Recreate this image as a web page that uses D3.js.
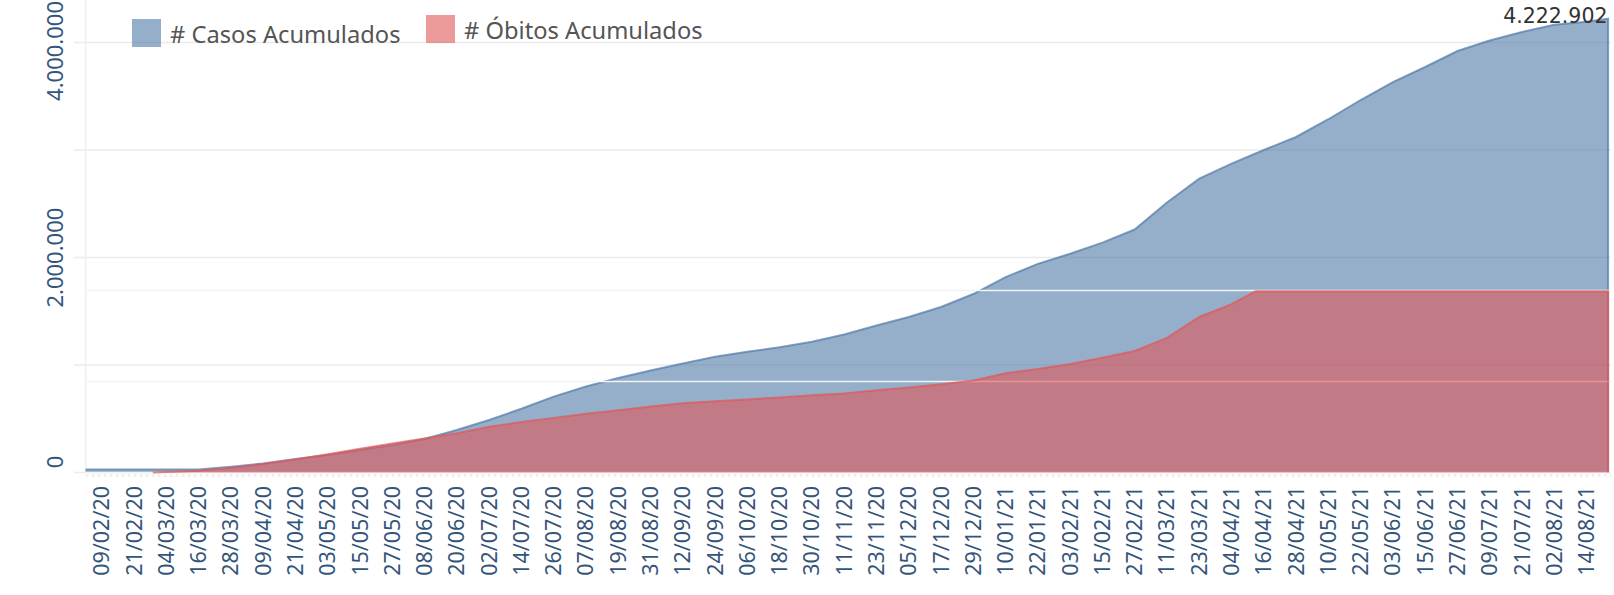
<!DOCTYPE html>
<html>
<head>
<meta charset="utf-8">
<script src="https://cdn.jsdelivr.net/npm/d3@7"></script>
<style>
  body { margin: 0; background: #fff; }
  svg { display: block; }
</style>
</head>
<body>
<div id="grafico"></div>
<script>
// etiquetas del eje x (cada 12 dias)
var fechasTicks = ["09/02/20", "21/02/20", "04/03/20", "16/03/20", "28/03/20", "09/04/20", "21/04/20", "03/05/20",
    "15/05/20", "27/05/20", "08/06/20", "20/06/20", "02/07/20", "14/07/20", "26/07/20", "07/08/20", "19/08/20",
    "31/08/20", "12/09/20", "24/09/20", "06/10/20", "18/10/20", "30/10/20", "11/11/20", "23/11/20", "05/12/20",
    "17/12/20", "29/12/20", "10/01/21", "22/01/21", "03/02/21", "15/02/21", "27/02/21", "11/03/21", "23/03/21",
    "04/04/21", "16/04/21", "28/04/21", "10/05/21", "22/05/21", "03/06/21", "15/06/21", "27/06/21", "09/07/21",
    "21/07/21", "02/08/21", "14/08/21"]

// casos acumulados (eje izquierdo)
var fechasCasos = ["03/02/20"].concat(fechasTicks).concat(["22/08/21"])
var casosAcumulados = [30000,
    30000, 30000, 30000, 30000, 55000, 85000, 126000, 164000,
    210000, 257000, 313000, 396000, 489000, 594000, 707000, 801000, 880000,
    949000, 1014000, 1077000, 1124000, 1166000, 1217000, 1285000, 1369000, 1447000,
    1540000, 1661000, 1818000, 1942000, 2036000, 2139000, 2261000, 2512000, 2734000,
    2874000, 3001000, 3122000, 3287000, 3466000, 3633000, 3773000, 3922000,
    4020000, 4099000, 4165000, 4195000,
    4222902]

// obitos acumulados (eje secundario, oculto)
var fechasObitos = ["28/02/20", "04/03/20", "16/03/20", "28/03/20", "09/04/20", "21/04/20", "03/05/20",
    "15/05/20", "27/05/20", "08/06/20", "20/06/20", "02/07/20", "14/07/20", "26/07/20", "07/08/20", "19/08/20",
    "31/08/20", "12/09/20", "24/09/20", "06/10/20", "18/10/20", "30/10/20", "11/11/20", "23/11/20", "05/12/20",
    "17/12/20", "29/12/20", "10/01/21", "22/01/21", "03/02/21", "15/02/21", "27/02/21", "11/03/21", "23/03/21",
    "04/04/21", "13/04/21", "16/04/21", "28/04/21", "10/05/21", "22/05/21", "03/06/21", "15/06/21", "27/06/21",
    "09/07/21", "21/07/21", "02/08/21", "14/08/21", "22/08/21"]
var obitosAcumulados = [0, 300, 1000, 2500, 4700, 7200, 10100,
    13100, 16000, 18700, 21600, 25200, 27800, 30000, 32300, 34300,
    36300, 38100, 39200, 40200, 41200, 42500, 43500, 45300, 46800,
    48500, 50600, 54600, 56900, 59700, 63100, 66800, 74000, 85500,
    92600, 99700, 99700, 99700, 99700, 99700, 99700, 99700, 99700,
    99700, 99700, 99700, 99700, 99700]

var ticksCasos = [0, 1000000, 2000000, 3000000, 4000000]
var etiquetasCasos = [0, 2000000, 4000000]
var ticksObitos = [0, 50000, 100000]
var nombresSeries = ["# Casos Acumulados", "# Óbitos Acumulados"]

var width = 1614,
    height = 595;

var parseFecha = d3.timeParse("%d/%m/%y");
var formato = d3.formatLocale({ decimal: ",", thousands: ".", grouping: [3], currency: ["", ""] }).format(",d");

var datosCasos = fechasCasos.map(function (f, i) {
    return { fecha: parseFecha(f), valor: casosAcumulados[i] }
})
var datosObitos = fechasObitos.map(function (f, i) {
    return { fecha: parseFecha(f), valor: obitosAcumulados[i] }
})

var x = d3.scaleTime()
    .domain([parseFecha("03/02/20"), parseFecha("22/08/21")])
    .range([85.6, 1608.1]);

var y = d3.scaleLinear()
    .domain([0, 4000000])
    .range([472.6, 42.6]);

var y2 = d3.scaleLinear()
    .domain([0, 100000])
    .range([472.6, 290.6]);

var svg = d3.select("#grafico").append("svg")
    .attr("width", width)
    .attr("height", height);

// rejilla principal
svg.append("g")
    .selectAll("line")
    .data(ticksCasos)
    .enter().append("line")
    .attr("x1", 74)
    .attr("x2", 1611)
    .attr("y1", function (d) { return y(d); })
    .attr("y2", function (d) { return y(d); })
    .attr("stroke", "#ebebeb")
    .attr("stroke-width", 1.5);

svg.append("line")
    .attr("x1", 85.6).attr("x2", 85.6)
    .attr("y1", 0).attr("y2", 473)
    .attr("stroke", "#eeeeee")
    .attr("stroke-width", 1.5);

// linea punteada bajo el eje
svg.append("line")
    .attr("x1", 85.6).attr("x2", 1611)
    .attr("y1", 475.5).attr("y2", 475.5)
    .attr("stroke", "#f0f0f0")
    .attr("stroke-width", 3)
    .attr("stroke-dasharray", "3,3");

function pintaArea(datos, escala, color) {
    var area = d3.area()
        .x(function (d) { return x(d.fecha); })
        .y0(escala(0))
        .y1(function (d) { return escala(d.valor); });

    var linea = d3.line()
        .x(function (d) { return x(d.fecha); })
        .y(function (d) { return escala(d.valor); });

    var ultimo = datos[datos.length - 1];

    svg.append("path")
        .datum(datos)
        .attr("d", area)
        .attr("fill", color)
        .attr("fill-opacity", 0.6);

    svg.append("path")
        .datum(datos.concat([{ fecha: ultimo.fecha, valor: 0 }]))
        .attr("d", linea)
        .attr("fill", "none")
        .attr("stroke", color)
        .attr("stroke-opacity", 0.7)
        .attr("stroke-width", 2);
}

pintaArea(datosCasos, y, "#4e79a7");

// rejilla del eje secundario
svg.append("g")
    .selectAll("line")
    .data(ticksObitos)
    .enter().append("line")
    .attr("x1", 85.6)
    .attr("x2", 1611)
    .attr("y1", function (d) { return y2(d); })
    .attr("y2", function (d) { return y2(d); })
    .attr("stroke", "#f3f3f3")
    .attr("stroke-width", 1.5);

pintaArea(datosObitos, y2, "#e15759");

// etiquetas eje y
var gy = svg.append("g")
    .selectAll("text")
    .data(etiquetasCasos)
    .enter().append("text")
    .style("font-family", "'Noto Sans', sans-serif")
    .style("font-size", "22px")
    .attr("fill", "#34557a")
    .attr("text-anchor", "middle")
    .text(function (d) { return formato(d); });

gy.attr("transform", function (d) {
    var len = this.getComputedTextLength();
    var c = y(d);
    if (c + len / 2 > 468.3) c = 468.3 - len / 2;
    if (c - len / 2 < 1) c = 1 + len / 2;
    return "translate(63," + c + ") rotate(-90)";
});

// etiquetas eje x
svg.append("g")
    .selectAll("text")
    .data(fechasTicks)
    .enter().append("text")
    .attr("transform", function (d) {
        return "translate(" + x(parseFecha(d)) + ",486) rotate(-90)";
    })
    .attr("dy", "0.35em")
    .attr("text-anchor", "end")
    .style("font-family", "'Noto Sans', sans-serif")
    .style("font-size", "21.5px")
    .attr("fill", "#34557a")
    .text(function (d) { return d; });

// valor final
var ultimoCaso = datosCasos[datosCasos.length - 1];
svg.append("text")
    .attr("x", 1607.5)
    .attr("y", 23.3)
    .attr("text-anchor", "end")
    .style("font-family", "'DejaVu Sans', sans-serif")
    .style("font-size", "20.5px")
    .attr("fill", "#333")
    .text(formato(ultimoCaso.valor));

// leyenda
var leyenda = [
    { nombre: nombresSeries[0], color: "#4e79a7", x: 132, y: 19, base: 43.3 },
    { nombre: nombresSeries[1], color: "#e15759", x: 426, y: 15, base: 39.3 }
]
var gl = svg.append("g")
    .selectAll("g")
    .data(leyenda)
    .enter().append("g");

gl.append("rect")
    .attr("x", function (d) { return d.x; })
    .attr("y", function (d) { return d.y; })
    .attr("width", 29)
    .attr("height", 28)
    .attr("fill", function (d) { return d.color; })
    .attr("fill-opacity", 0.6);

gl.append("text")
    .attr("x", function (d) { return d.x + 38; })
    .attr("y", function (d) { return d.base; })
    .style("font-family", "'Noto Sans', sans-serif")
    .style("font-size", "23.7px")
    .attr("fill", "#555")
    .text(function (d) { return d.nombre; });
</script>
</body>
</html>
